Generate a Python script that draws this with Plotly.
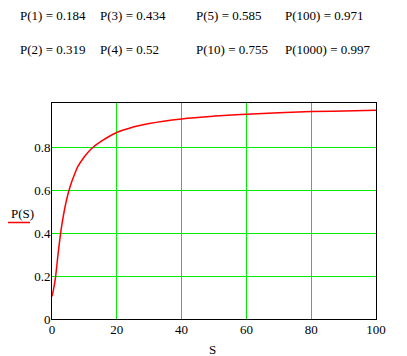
import plotly.graph_objects as go

# Data
s_values = [0, 0.5, 1, 2, 3, 4, 5, 6, 7, 8, 10, 12, 15, 20, 25, 30, 40, 50, 60, 70, 80, 90, 100]
p_values = [0.105, 0.14, 0.184, 0.319, 0.434, 0.52, 0.585, 0.635, 0.675, 0.71, 0.755, 0.79,
            0.825, 0.868, 0.893, 0.91, 0.931, 0.944, 0.953, 0.96, 0.965, 0.968, 0.971]

x_ticks = [0, 20, 40, 60, 80, 100]
y_ticks = [0, 0.2, 0.4, 0.6, 0.8]

result_labels_row1 = ["P(1) = 0.184", "P(3) = 0.434", "P(5) = 0.585", "P(100) = 0.971"]
result_labels_row2 = ["P(2) = 0.319", "P(4) = 0.52", "P(10) = 0.755", "P(1000) = 0.997"]

# The page body has an 8px margin, so the figure starts at (8, 8) of the window.
OFF = 8
WIN_W, WIN_H = 407, 356
W, H = WIN_W - OFF, WIN_H - OFF
# plot area in window pixels: x 52..376, y 103..319
PL, PR, PT, PB = 52, 376, 103, 319
ML, MR, MT, MB = PL - OFF, W - (PR - OFF), PT - OFF, H - (PB - OFF)
PW, PH = W - ML - MR, H - MT - MB
FONT = "'Liberation Serif', 'Times New Roman', 'DejaVu Serif', serif"
GRID = "#00ee00"


def px(xw):
    return (xw - OFF - ML) / PW


def py(yw):
    return (H - MB - (yw - OFF)) / PH


fig = go.Figure()
fig.add_trace(go.Scatter(x=s_values, y=p_values, mode="lines",
                         line=dict(color="#ff0000", width=1.5, shape="spline"),
                         showlegend=False, hoverinfo="skip"))

annotations = []
col_x = [18, 98, 194, 283]
for row_labels, yc in ((result_labels_row1, 15), (result_labels_row2, 50)):
    for lab, xc in zip(row_labels, col_x):
        annotations.append(dict(text=lab, x=px(xc), y=py(yc), xref="paper", yref="paper",
                                xanchor="left", yanchor="middle", showarrow=False,
                                font=dict(family=FONT, size=13, color="black")))

# Legend label on the left
annotations.append(dict(text="P(S)", x=px(9), y=py(213), xref="paper", yref="paper",
                        xanchor="left", yanchor="middle", showarrow=False,
                        font=dict(family=FONT, size=13, color="black")))
# x-axis title
annotations.append(dict(text="S", x=px(212), y=py(349), xref="paper", yref="paper",
                        xanchor="center", yanchor="middle", showarrow=False,
                        font=dict(family=FONT, size=13, color="black")))

fig.update_layout(
    width=W, height=H,
    margin=dict(l=ML, r=MR, t=MT, b=MB, pad=0),
    paper_bgcolor="white", plot_bgcolor="white",
    annotations=annotations,
    shapes=[dict(type="line", xref="paper", yref="paper",
                 x0=px(8), x1=px(30), y0=py(222.5), y1=py(222.5),
                 line=dict(color="#ff0000", width=1.5))],
    xaxis=dict(range=[0, 100], tickvals=x_ticks, ticktext=[str(v) for v in x_ticks],
               showgrid=True, gridcolor=GRID, gridwidth=1, zeroline=False,
               showline=True, linecolor="black", linewidth=1, mirror=True,
               ticks="", ticklen=0, ticklabelstandoff=-2,
               tickfont=dict(family=FONT, size=13, color="black")),
    yaxis=dict(range=[0, 1.005], tickvals=y_ticks, ticktext=["0", "0.2", "0.4", "0.6", "0.8"],
               showgrid=True, gridcolor=GRID, gridwidth=1, zeroline=False,
               showline=True, linecolor="black", linewidth=1, mirror=True,
               ticks="", ticklen=0, ticklabelstandoff=-2,
               tickfont=dict(family=FONT, size=13, color="black")),
)

fig.write_html("out.html")
